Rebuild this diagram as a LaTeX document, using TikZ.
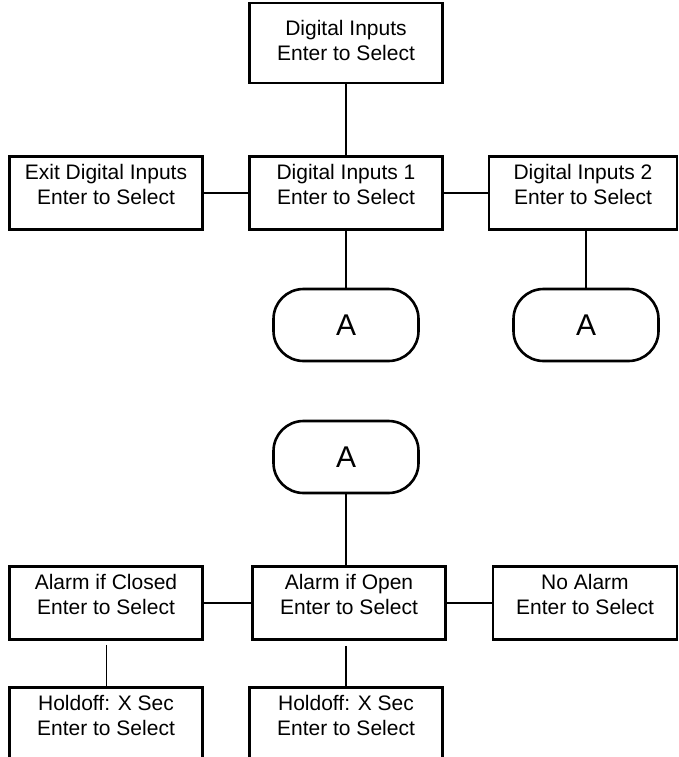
\documentclass[tikz,border=0pt]{standalone}
\usepackage{fontspec}
\setmainfont{Liberation Sans}
\begin{document}
\begin{tikzpicture}[x=1pt, y=-1pt, line width=2.6pt,
    every node/.style={font=\fontsize{21}{25}\selectfont},
    menubox/.style={draw, align=center, minimum width=193pt, minimum height=73pt, inner sep=0pt, text depth=17pt},
    jumpbox/.style={draw, rounded corners=30pt, minimum width=145pt, minimum height=72pt, font=\fontsize{30}{32}\selectfont}]
        \clip (0,0) rectangle (679,757);
        \node[menubox, minimum height=80pt, text depth=5pt] (top) at (346,43) {Digital Inputs\\Enter to Select};
        \node[menubox] (exit) at (106,193) {Exit Digital Inputs\\Enter to Select};
        \node[menubox] (di1) at (346,193) {Digital Inputs 1\\Enter to Select};
        \node[menubox, minimum width=188pt] (di2) at (583,193) {Digital Inputs 2\\Enter to Select};
        \node[jumpbox] (a1) at (346,325) {A};
        \node[jumpbox] (a2) at (586,325) {A};
        \draw (top.south) -- (di1.north);
        \draw (exit.east) -- (di1.west);
        \draw (di1.east) -- (di2.west);
        \draw (di1.south) -- (a1.north);
        \draw (di2.south -| a2.north) -- (a2.north);
        \node[jumpbox] (a3) at (346,457) {A};
        \node[menubox] (closed) at (106,603) {Alarm if Closed\\Enter to Select};
        \node[menubox] (open) at (349,603) {Alarm if Open\\Enter to Select};
        \node[menubox, minimum width=184pt] (none) at (585,603) {No Alarm\\Enter to Select};
        \node[menubox] (hold1) at (106,724) {Holdoff: X Sec\\Enter to Select};
        \node[menubox] (hold2) at (346,724) {Holdoff: X Sec\\Enter to Select};
        \draw (a3.south) -- (a3.south |- open.north);
        \draw (closed.east) -- (open.west);
        \draw (open.east) -- (none.west);
        \draw[line width=1pt, shorten <=4pt] (closed.south) -- (hold1.north);
        \draw[shorten <=5pt] (hold2.north |- open.south) -- (hold2.north);
    \end{tikzpicture}
\end{document}
